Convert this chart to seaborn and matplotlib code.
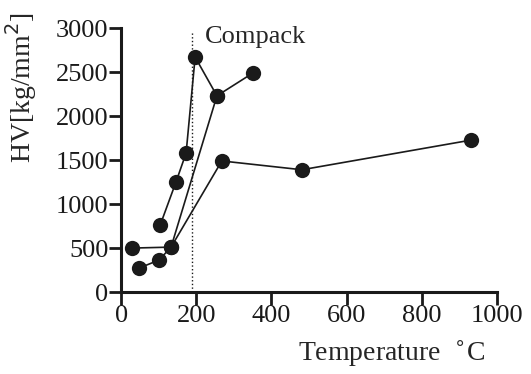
import numpy as np
import pandas as pd
import seaborn as sns
import matplotlib
matplotlib.use('Agg')
import matplotlib.pyplot as plt

# values
s1_temp = [48, 101, 133, 268, 481, 931]
s1_hv = [273, 364, 511, 1490, 1390, 1727]
s2_temp = [29, 133, 255]
s2_hv = [500, 511, 2230]
s3_temp = [104, 146, 173, 197, 255, 351]
s3_hv = [761, 1250, 1580, 2670, 2230, 2490]
compack_temp = 190

xticks = [0, 200, 400, 600, 800, 1000]
yticks = [0, 500, 1000, 1500, 2000, 2500, 3000]

df = pd.concat([
    pd.DataFrame({'T': s1_temp, 'HV': s1_hv, 'series': 's1'}),
    pd.DataFrame({'T': s2_temp, 'HV': s2_hv, 'series': 's2'}),
    pd.DataFrame({'T': s3_temp, 'HV': s3_hv, 'series': 's3'}),
])

sns.set_style('ticks')
plt.rcParams['font.family'] = ['Liberation Serif', 'DejaVu Serif']

fig = plt.figure(figsize=(5.31, 3.74), dpi=100)
ax = fig.add_axes([0.228, 0.219, 0.708, 0.706])

sns.lineplot(data=df, x='T', y='HV', hue='series', palette=['#1a1a1a'] * 3,
             sort=False, estimator=None, marker='o', markersize=11,
             markeredgewidth=0, linewidth=1.2, legend=False, ax=ax)

ax.plot([compack_temp, compack_temp], [0, 2950], ls=':', color='#1a1a1a', lw=1.0)
ax.text(222, 2900, 'Compack', fontsize=19, va='center', ha='left')

ax.set_xlim(0, 1000)
ax.set_ylim(0, 3000)
ax.set_xticks(xticks)
ax.set_yticks(yticks)
ax.tick_params(axis='both', direction='out', length=9, width=2, labelsize=19,
               pad=0, colors='#1a1a1a')
for side in ['top', 'right']:
    ax.spines[side].set_visible(False)
for side in ['left', 'bottom']:
    ax.spines[side].set_linewidth(2.2)
    ax.spines[side].set_color('#1a1a1a')

ax.set_xlabel('')
ax.set_ylabel('')
ax.text(0.72, -0.235, 'Temperature  $^{\\circ}$C', transform=ax.transAxes,
        fontsize=20, ha='center', va='center')
ax.text(-0.265, 0.775, 'HV[kg/mm$^2$]', transform=ax.transAxes,
        fontsize=20, ha='center', va='center', rotation=90)

fig.savefig('out.png', dpi=100)
